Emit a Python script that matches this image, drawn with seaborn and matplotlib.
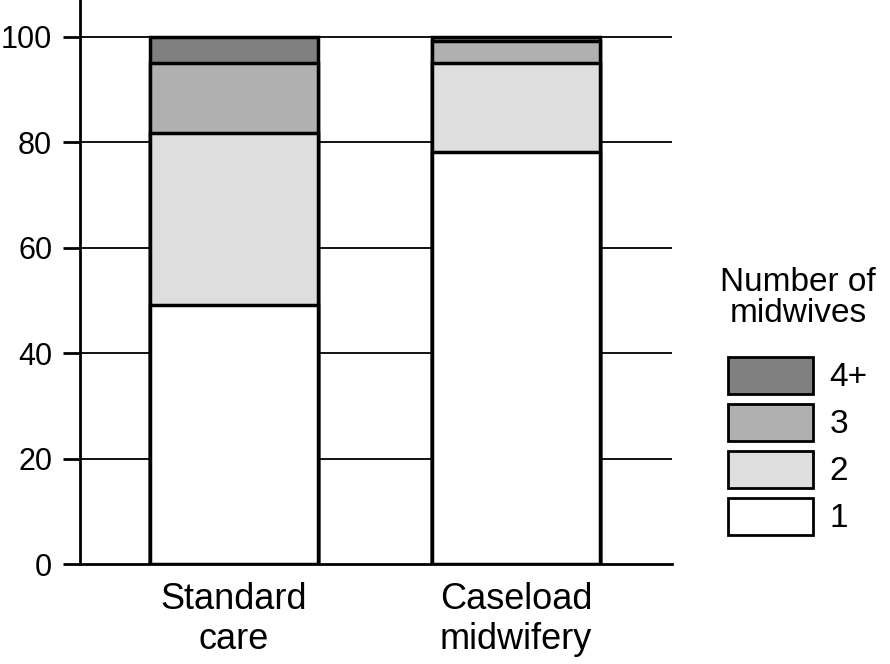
import matplotlib
matplotlib.use("Agg")
import matplotlib.pyplot as plt
from matplotlib.patches import Patch
import seaborn as sns
import pandas as pd
import numpy as np

categories = ["Standard\ncare", "Caseload\nmidwifery"]
groups = ["1", "2", "3", "4+"]
share_1 = [49.2, 78.2]
share_2 = [32.6, 16.8]
share_3 = [13.3, 4.3]
share_4 = [4.9, 0.7]
colors = ["#ffffff", "#dedede", "#b0b0b0", "#808080"]

sns.set_theme(style="white")
plt.rcParams['font.family'] = ['Liberation Sans', 'DejaVu Sans']
plt.rcParams['text.color'] = 'black'
plt.rcParams['axes.labelcolor'] = 'black'
plt.rcParams['xtick.color'] = 'black'
plt.rcParams['ytick.color'] = 'black'

fig = plt.figure(figsize=(8.9, 6.64), dpi=100)
ax = fig.add_axes([80/890, 100/664, 592/890, 564/664])

series = [share_1, share_2, share_3, share_4]
cum = np.cumsum(np.array(series), axis=0)

for yv in [20, 40, 60, 80, 100]:
    ax.axhline(yv, color="black", lw=1.3, zorder=0)

for i in reversed(range(4)):
    df = pd.DataFrame({"cat": categories, "val": cum[i]})
    sns.barplot(data=df, x="cat", y="val", color=colors[i], width=0.596,
                edgecolor="black", linewidth=2.5, ax=ax, zorder=2 + (3 - i),
                saturation=1)

ax.set_xlim(-0.546, 1.553)
ax.set_ylim(0, 107)
ax.set_yticks([0, 20, 40, 60, 80, 100])
ax.set_xlabel("")
ax.set_ylabel("")
for s in ["top", "right"]:
    ax.spines[s].set_visible(False)
for s in ["left", "bottom"]:
    ax.spines[s].set_color("black")
    ax.spines[s].set_linewidth(2)
ax.tick_params(axis="y", length=12, width=2, color="black", labelsize=22, pad=8, direction="out", left=True)
ax.tick_params(axis="x", length=0, labelsize=26, pad=13)
for t in ax.get_xticklabels() + ax.get_yticklabels():
    t.set_color("black")
for t in ax.get_xticklabels():
    t.set_linespacing(1.18)

handles = [Patch(facecolor=colors[i], edgecolor="black", linewidth=2, label=groups[i]) for i in reversed(range(4))]
leg = fig.legend(handles=handles, title="Number of\nmidwives", loc="upper left",
                 bbox_to_anchor=(720/890, 1 - 267/664), frameon=False, fontsize=24,
                 title_fontsize=24, handlelength=2.55, handleheight=1.33,
                 labelspacing=0.3, handletextpad=0.5, borderaxespad=0, borderpad=0)
leg.get_title().set_multialignment("center")
leg.get_title().set_linespacing(1.0)
leg.get_title().set_color("black")
for t in leg.get_texts():
    t.set_color("black")
leg._legend_box.sep = 20

fig.savefig("out.png", dpi=100)
